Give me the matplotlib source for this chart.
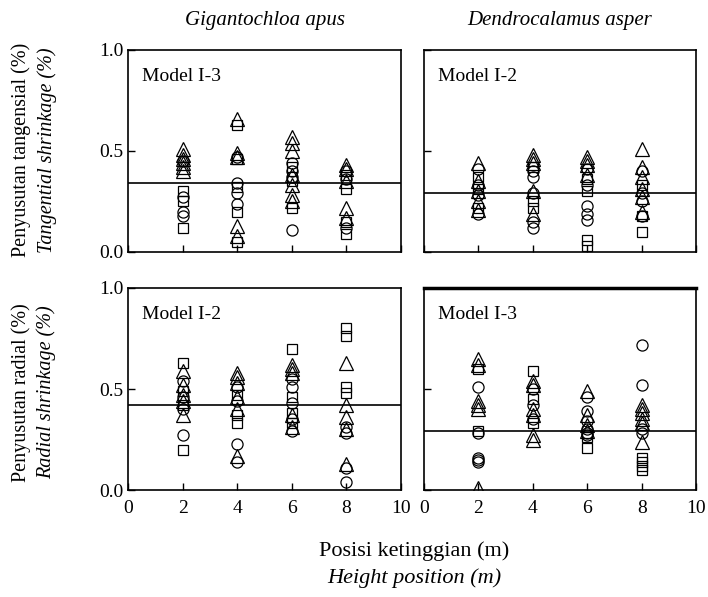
import matplotlib.pyplot as plt

# posisi ketinggian (m)
heights = [2, 4, 6, 8]

# Gigantochloa apus - tangensial
ga_tan_tri = [[0.51, 0.48, 0.46, 0.44, 0.42, 0.40], [0.66, 0.49, 0.47, 0.13, 0.08],
              [0.57, 0.54, 0.50, 0.38, 0.33, 0.28, 0.25], [0.43, 0.41, 0.35, 0.22, 0.17]]
ga_tan_cir = [[0.45, 0.27, 0.20, 0.18], [0.47, 0.34, 0.29, 0.24],
              [0.44, 0.40, 0.37, 0.11], [0.40, 0.36, 0.12]]
ga_tan_sq = [[0.30, 0.25, 0.12], [0.63, 0.46, 0.32, 0.20, 0.05],
             [0.42, 0.35, 0.22], [0.38, 0.31, 0.15, 0.09]]
ga_tan_mean = 0.34

# Dendrocalamus asper - tangensial
da_tan_tri = [[0.44, 0.35, 0.30, 0.25, 0.21], [0.48, 0.46, 0.44, 0.30, 0.19],
              [0.47, 0.45, 0.43, 0.38], [0.51, 0.42, 0.37, 0.31, 0.27, 0.20]]
da_tan_cir = [[0.41, 0.33, 0.28, 0.19], [0.40, 0.37, 0.29, 0.15, 0.12],
              [0.41, 0.33, 0.23, 0.19, 0.16], [0.40, 0.29, 0.25, 0.18]]
da_tan_sq = [[0.37, 0.31, 0.22], [0.42, 0.25, 0.22],
             [0.36, 0.30, 0.06, 0.03], [0.33, 0.18, 0.10]]
da_tan_mean = 0.29

# Gigantochloa apus - radial
ga_rad_tri = [[0.59, 0.52, 0.47, 0.44, 0.37], [0.58, 0.56, 0.53, 0.46, 0.40, 0.17],
              [0.62, 0.60, 0.58, 0.37, 0.31], [0.63, 0.42, 0.36, 0.30, 0.13]]
ga_rad_cir = [[0.54, 0.46, 0.40, 0.27], [0.51, 0.44, 0.23, 0.14],
              [0.55, 0.51, 0.43, 0.35, 0.29], [0.31, 0.28, 0.11, 0.04]]
ga_rad_sq = [[0.63, 0.49, 0.42, 0.20], [0.47, 0.37, 0.33],
             [0.70, 0.46, 0.38, 0.33], [0.80, 0.76, 0.51, 0.48]]
ga_rad_mean = 0.42

# Dendrocalamus asper - radial
da_rad_tri = [[0.65, 0.62, 0.44, 0.42, 0.40, 0.01], [0.54, 0.52, 0.40, 0.37, 0.27, 0.25],
              [0.49, 0.37, 0.32, 0.29], [0.42, 0.40, 0.38, 0.35, 0.33, 0.24]]
da_rad_cir = [[0.51, 0.28, 0.16, 0.15, 0.14], [0.50, 0.42, 0.35],
              [0.46, 0.39, 0.34, 0.30, 0.28, 0.27], [0.72, 0.52, 0.30, 0.28]]
da_rad_sq = [[0.60, 0.29], [0.59, 0.45, 0.33], [0.26, 0.21], [0.16, 0.14, 0.12, 0.10]]
da_rad_mean = 0.29

serif = 'Liberation Serif'
plt.rcParams['font.family'] = serif


def flatten(groups):
    xs, ys = [], []
    for h, vals in zip(heights, groups):
        xs += [h] * len(vals)
        ys += vals
    return xs, ys


def panel(ax, sq, cir, tri, mean, model, left, top_thick=False):
    x, y = flatten(sq)
    ax.plot(x, y, 's', mfc='none', mec='black', ms=7, mew=0.9)
    x, y = flatten(cir)
    ax.plot(x, y, 'o', mfc='none', mec='black', ms=8, mew=0.9)
    x, y = flatten(tri)
    ax.plot(x, y, '^', mfc='none', mec='black', ms=9.5, mew=0.9)
    ax.axhline(mean, color='black', lw=1.2)
    ax.set_xlim(0, 10)
    ax.set_ylim(0, 1)
    ax.set_xticks([0, 2, 4, 6, 8, 10])
    ax.set_yticks([0.0, 0.5, 1.0])
    ax.tick_params(direction='in', length=5, width=1, labelsize=14)
    ax.tick_params(axis='x', pad=7)
    ax.set_yticklabels(['0.0', '0.5', '1.0'] if left else [])
    for s in ax.spines.values():
        s.set_linewidth(1.2)
    if top_thick:
        ax.spines['top'].set_linewidth(2.5)
    ax.text(0.05, 0.87, model, transform=ax.transAxes, fontsize=14, va='center')


fig = plt.figure(figsize=(7.08, 5.97), dpi=100)
ax1 = fig.add_axes([0.1808, 0.5779, 0.3856, 0.3384])
ax2 = fig.add_axes([0.5989, 0.5779, 0.3842, 0.3384])
ax3 = fig.add_axes([0.1808, 0.1792, 0.3856, 0.3384])
ax4 = fig.add_axes([0.5989, 0.1792, 0.3842, 0.3384])

panel(ax1, ga_tan_sq, ga_tan_cir, ga_tan_tri, ga_tan_mean, 'Model I-3', True)
panel(ax2, da_tan_sq, da_tan_cir, da_tan_tri, da_tan_mean, 'Model I-2', False)
panel(ax3, ga_rad_sq, ga_rad_cir, ga_rad_tri, ga_rad_mean, 'Model I-2', True)
panel(ax4, da_rad_sq, da_rad_cir, da_rad_tri, da_rad_mean, 'Model I-3', False, top_thick=True)
ax1.set_xticklabels([])
ax2.set_xticklabels([])

ax1.set_title('Gigantochloa apus', fontsize=15, style='italic', pad=18)
ax2.set_title('Dendrocalamus asper', fontsize=15, style='italic', pad=18)

fig.text(0.030, 0.749, 'Penyusutan tangensial (%)', rotation=90, fontsize=14.5,
         ha='center', va='center')
fig.text(0.066, 0.749, 'Tangential shrinkage (%)', rotation=90, fontsize=14.5,
         style='italic', ha='center', va='center')
fig.text(0.030, 0.343, 'Penyusutan radial (%)', rotation=90, fontsize=14.5,
         ha='center', va='center')
fig.text(0.066, 0.343, 'Radial shrinkage (%)', rotation=90, fontsize=14.5,
         style='italic', ha='center', va='center')

fig.text(0.585, 0.076, 'Posisi ketinggian (m)', fontsize=16, ha='center', va='center')
fig.text(0.585, 0.032, 'Height position (m)', fontsize=16, style='italic',
         ha='center', va='center')

fig.savefig('out.png', dpi=100)
